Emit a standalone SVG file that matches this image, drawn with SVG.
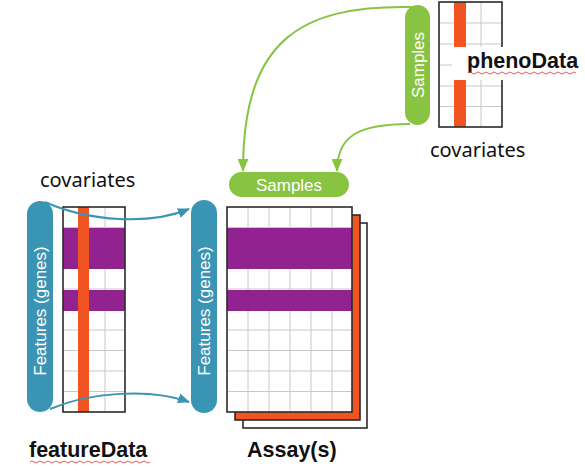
<svg xmlns="http://www.w3.org/2000/svg" width="585" height="474" viewBox="0 0 585 474">
<style>
.lbl{font-family:"Noto Sans","Liberation Sans",sans-serif;font-size:20px;fill:#111}
.bold{font-family:"Liberation Sans",Arial,sans-serif;font-weight:bold;font-size:21.5px;fill:#111}
.pill{font-family:"Liberation Sans",Arial,sans-serif;font-size:17px;fill:#fff;text-anchor:middle}
.blue{fill:#3a94b3}
.green{fill:#88c441}
.purple{fill:#92228f}
.orange{fill:#f05423}
.grid{stroke:#c8c8c8;stroke-width:1;fill:none}
.border{fill:none;stroke:#2a2a2a;stroke-width:1.6}
.squig{fill:none;stroke:#e04848;stroke-width:0.9}
</style>
<defs>
<marker id="ab" viewBox="0 0 12 10" refX="11" refY="5" markerWidth="12" markerHeight="10" markerUnits="userSpaceOnUse" orient="auto">
<path d="M0,0 L12,5 L0,10 z" fill="#3a94b3"/>
</marker>
<marker id="ag" viewBox="0 0 12 10" refX="11" refY="5" markerWidth="13" markerHeight="11" markerUnits="userSpaceOnUse" orient="auto">
<path d="M0,0 L12,5 L0,10 z" fill="#88c441"/>
</marker>
</defs>

<g id="featureData">
<rect x="63" y="207" width="62" height="205" fill="#fff"/>
<path class="grid" d="M84,207V412 M105,207V412 M63,227.5H125 M63,248H125 M63,268.5H125 M63,289H125 M63,309.5H125 M63,330H125 M63,350.5H125 M63,371H125 M63,391.5H125"/>
<rect class="purple" x="63" y="228" width="62" height="41"/>
<rect class="purple" x="63" y="290" width="62" height="21"/>
<rect class="orange" x="78" y="207" width="11" height="205"/>
<rect class="border" x="63" y="207" width="62" height="205"/>
<text class="bold" x="29" y="457">featureData</text>
<path class="squig" d="M30,462 q2,-2 4,0 t4,0 t4,0 t4,0 t4,0 t4,0 t4,0 t4,0 t4,0 t4,0 t4,0 t4,0 t4,0 t4,0 t4,0 t4,0 t4,0 t4,0 t4,0 t4,0 t4,0 t4,0 t4,0 t4,0 t4,0 t4,0 t4,0 t4,0 t4,0 t4,0"/>
</g>

<g id="featureCov">
<text class="lbl" x="40" y="187">covariates</text>
</g>

<g id="features1">
<rect class="blue" x="27" y="201" width="26" height="211" rx="13"/>
<text class="pill" transform="translate(46,311) rotate(-90)">Features (genes)</text>
</g>

<g id="features2">
<rect class="blue" x="191" y="200" width="26" height="213" rx="13"/>
<text class="pill" transform="translate(210,311) rotate(-90)">Features (genes)</text>
</g>

<g id="assay">
<rect x="243" y="223" width="124" height="205" fill="#fff" stroke="#2a2a2a" stroke-width="1.6"/>
<rect x="235" y="215" width="125" height="205" class="orange" stroke="#2a2a2a" stroke-width="1.6"/>
<rect x="227" y="207" width="125" height="205" fill="#fff"/>
<path class="grid" d="M248,207V412 M269,207V412 M290,207V412 M311,207V412 M332,207V412 M227,227.5H352 M227,248H352 M227,268.5H352 M227,289H352 M227,309.5H352 M227,330H352 M227,350.5H352 M227,371H352 M227,391.5H352"/>
<rect class="purple" x="227" y="228" width="125" height="41"/>
<rect class="purple" x="227" y="290" width="125" height="21"/>
<rect class="border" x="227" y="207" width="125" height="205"/>
<text class="bold" x="247" y="457">Assay(s)</text>
</g>

<g id="samples1">
<rect class="green" x="229" y="172" width="120" height="25" rx="12.5"/>
<text class="pill" x="289" y="190.5">Samples</text>
</g>

<g id="phenoData">
<rect x="439" y="2" width="63" height="125" fill="#fff"/>
<path class="grid" d="M460,2V127 M481,2V127 M439,23H502 M439,44H502 M439,65H502 M439,86H502 M439,106.5H502"/>
<rect class="orange" x="454" y="2" width="12" height="45"/>
<rect class="orange" x="454" y="80" width="12" height="47"/>
<rect class="border" x="439" y="2" width="63" height="125"/>
<rect x="452" y="47" width="133" height="33" fill="#fff"/>
<text class="bold" x="467" y="68">phenoData</text>
<path class="squig" d="M468,73 q2,-2 4,0 t4,0 t4,0 t4,0 t4,0 t4,0 t4,0 t4,0 t4,0 t4,0 t4,0 t4,0 t4,0 t4,0 t4,0 t4,0 t4,0 t4,0 t4,0 t4,0 t4,0 t4,0 t4,0 t4,0 t4,0 t4,0 t4,0"/>
<text class="lbl" x="430" y="157">covariates</text>
</g>

<g id="samples2">
<rect class="green" x="405" y="5" width="25" height="120" rx="12.5"/>
<text class="pill" transform="translate(423.5,65) rotate(-90)">Samples</text>
</g>

<g id="connectors" fill="none" stroke-width="2">
<path d="M45,202 C90,222 150,225 189,209" stroke="#3a94b3" marker-end="url(#ab)"/>
<path d="M50,409 C90,392 150,388 189,402" stroke="#3a94b3" marker-end="url(#ab)"/>
<path d="M412,7 C300,5 243,40 243,171" stroke="#88c441" marker-end="url(#ag)"/>
<path d="M410,124 C360,124 337,135 337,171" stroke="#88c441" marker-end="url(#ag)"/>
</g>
</svg>
